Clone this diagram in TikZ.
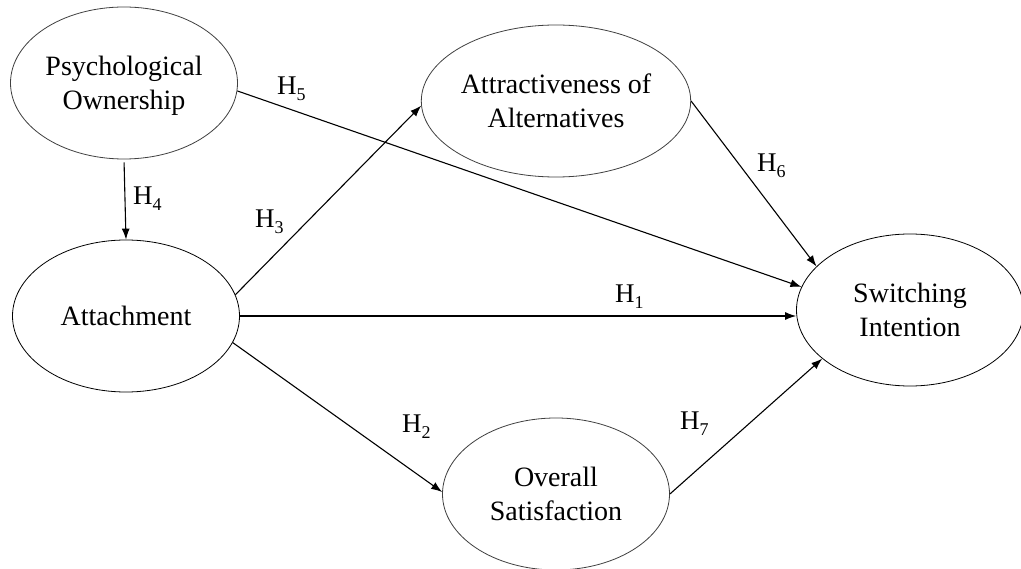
\documentclass[tikz,border=0pt]{standalone}
\usepackage{fontspec}
\setmainfont{Liberation Serif}
\usetikzlibrary{arrows.meta,shapes.geometric}

% hypothesis label: H with a lowered digit
\newcommand{\hyp}[1]{H\raisebox{-6pt}{\fontsize{18}{18}\selectfont #1}}

\begin{document}
\begin{tikzpicture}[x=1pt,y=-1pt,
  construct/.style={ellipse,draw=black!75,line width=0.8pt,
    minimum width=227pt,minimum height=152pt,inner sep=0pt,
    text depth=0pt,align=center,font=\fontsize{28}{34}\selectfont},
  strong/.style={draw=black},
  path/.style={line width=1.1pt,-{Latex[length=11pt,width=8pt]}},
  hlabel/.style={anchor=base west,inner sep=0pt,font=\fontsize{27}{27}\selectfont}]

\fill[white] (0,0) rectangle (1021,569);
\useasboundingbox (0,0) rectangle (1021,569);

% constructs
\node[construct] (po) at (124,83)  {Psychological\\Ownership};
\node[construct,strong] (at) at (126,316) {Attachment};
\node[construct] (aa) at (556,101) {Attractiveness of\\Alternatives};
\node[construct,strong] (si) at (910,310) {Switching\\Intention};
\node[construct] (os) at (556,494) {Overall\\Satisfaction};

% hypothesised paths
\draw[path,shorten <=3pt] (po.south) -- (at.north);
\draw[path] (po.-4) -- (si.168);
\draw[path] (at.11) -- (aa.182);
\draw[path] (at.east) -- (at.east -| si.west);
\draw[path] (at.-14) -- (os.179);
\draw[path] (aa.east) -- (si.155);
\draw[path] (os.east) -- (si.209);

% path labels
\node[hlabel] (h5) at (277,95)  {\hyp{5}};
\node[hlabel] (h4) at (133,205) {\hyp{4}};
\node[hlabel] (h3) at (255,228) {\hyp{3}};
\node[hlabel] (h1) at (615,303) {\hyp{1}};
\node[hlabel] (h2) at (402,432) {\hyp{2}};
\node[hlabel] (h6) at (757,172) {\hyp{6}};
\node[hlabel] (h7) at (680,430) {\hyp{7}};
\end{tikzpicture}
\end{document}
